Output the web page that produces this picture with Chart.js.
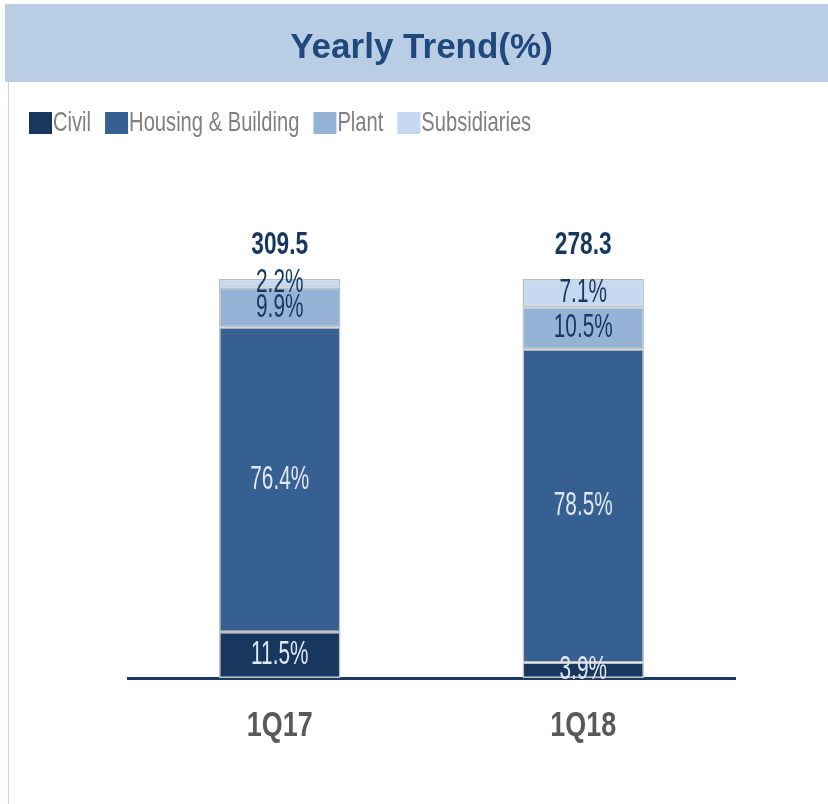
<!DOCTYPE html>
<html>
<head>
<meta charset="utf-8">
<script src="https://cdn.jsdelivr.net/npm/chart.js@4"></script>
<style>
html, body { margin: 0; padding: 0; background: #fff; }
#wrap { width: 828px; height: 804px; }
</style>
</head>
<body>
<div id="wrap"><canvas id="chart"></canvas></div>
<script>
const quarters = ['1Q17', '1Q18'];
const civil = [11.5, 3.9];
const housing = [76.4, 78.5];
const plant = [9.9, 10.5];
const subsidiaries = [2.2, 7.1];
const totals = [309.5, 278.3];

const font = '"Liberation Sans", Arial, sans-serif';
const labelColors = ['#dfe7f2', '#dfe7f2', '#17375e', '#17375e'];

// the original uses a squeezed Arial; fake it by scaling glyphs horizontally
const squeeze = {factor: 1, shift: 0};

function condense(ctx) {
    const fillText = ctx.fillText.bind(ctx);
    const measureText = ctx.measureText.bind(ctx);
    ctx.fillText = function (text, x, y, maxWidth) {
        if (squeeze.factor === 1 && !squeeze.shift) return fillText(text, x, y, maxWidth);
        ctx.save();
        ctx.translate(x - squeeze.shift, y);
        ctx.scale(squeeze.factor, 1);
        fillText(text, 0, 0);
        ctx.restore();
    };
    ctx.measureText = function (text) {
        const m = measureText(text);
        if (squeeze.factor === 1 && !squeeze.shift) return m;
        return {
            width: m.width * squeeze.factor - squeeze.shift,
            actualBoundingBoxAscent: m.actualBoundingBoxAscent,
            actualBoundingBoxDescent: m.actualBoundingBoxDescent
        };
    };
}

function squeezed(obj, method, factor, shift, after) {
    const orig = obj[method];
    obj[method] = function () {
        squeeze.factor = factor;
        squeeze.shift = shift;
        try {
            const r = orig.apply(this, arguments);
            if (after) after.call(this);
            return r;
        } finally {
            squeeze.factor = 1;
            squeeze.shift = 0;
        }
    };
}

const condensedText = {
    id: 'condensedText',
    beforeInit(chart) {
        condense(chart.ctx);
    },
    beforeLayout(chart) {
        if (chart._squeezed) return;
        // legend: tight box/text gap and extra room under it
        squeezed(chart.legend, 'fit', 0.72, 13, function () { this.height += 132; });
        squeezed(chart.legend, 'draw', 0.72, 13);
        squeezed(chart.scales.x, 'drawLabels', 0.77, 0);
        chart._squeezed = true;
    }
};

// light blue header band + left frame line
const headerBand = {
    id: 'headerBand',
    beforeDraw(chart) {
        const ctx = chart.ctx;
        ctx.save();
        ctx.fillStyle = '#b9cde4';
        ctx.fillRect(5, 4, chart.width - 5, 78);
        ctx.strokeStyle = '#c5d6ea';
        ctx.lineWidth = 1;
        ctx.beginPath();
        ctx.moveTo(8.5, 82);
        ctx.lineTo(8.5, chart.height);
        ctx.stroke();
        ctx.restore();
    }
};

const segmentLabels = {
    id: 'segmentLabels',
    afterDatasetsDraw(chart) {
        const ctx = chart.ctx;
        ctx.save();
        ctx.textAlign = 'center';
        ctx.textBaseline = 'middle';
        squeeze.factor = 0.63;
        ctx.font = '33px ' + font;
        chart.data.datasets.forEach((ds, i) => {
            ctx.fillStyle = labelColors[i];
            chart.getDatasetMeta(i).data.forEach((bar, j) => {
                ctx.fillText(ds.data[j].toFixed(1) + '%', bar.x, (bar.y + bar.base) / 2);
            });
        });
        squeeze.factor = 0.71;
        ctx.font = 'bold 32px ' + font;
        ctx.fillStyle = '#17375e';
        chart.getDatasetMeta(chart.data.datasets.length - 1).data.forEach((bar, j) => {
            ctx.fillText(totals[j].toFixed(1), bar.x, bar.y - 34);
        });
        squeeze.factor = 1;
        ctx.restore();
    }
};

function segment(label, data, color) {
    return {
        label: label,
        data: data,
        backgroundColor: color,
        borderColor: '#bfbfbf',
        borderWidth: 1.5,
        borderSkipped: false,
        categoryPercentage: 1,
        barPercentage: 0.4
    };
}

new Chart(document.getElementById('chart'), {
    type: 'bar',
    data: {
        labels: quarters,
        datasets: [
            segment('Civil', civil, '#17375e'),
            segment('Housing & Building', housing, '#366092'),
            segment('Plant', plant, '#95b3d7'),
            segment('Subsidiaries', subsidiaries, '#c6d9f1')
        ]
    },
    options: {
        responsive: true,
        maintainAspectRatio: false,
        animation: false,
        layout: {padding: {top: 4, left: 15, right: 0, bottom: 0}},
        scales: {
            x: {
                stacked: true,
                grid: {display: false},
                border: {display: true, color: '#1b3a63', width: 3},
                ticks: {
                    color: '#595959',
                    padding: 19,
                    font: {family: font, size: 35, weight: 'bold'}
                },
                afterFit: s => { s.height = 126; }
            },
            y: {
                stacked: true,
                min: 0,
                max: 100,
                grid: {display: false},
                border: {display: false},
                ticks: {display: false},
                afterFit: s => { s.width = 113; }
            },
            y2: {
                position: 'right',
                min: 0,
                max: 100,
                grid: {display: false},
                border: {display: false},
                ticks: {display: false},
                afterFit: s => { s.width = 93; }
            }
        },
        plugins: {
            title: {
                display: true,
                text: 'Yearly Trend(%)',
                color: '#1f497d',
                font: {family: font, size: 35, weight: 'bold', lineHeight: 1.2},
                padding: {top: 23, bottom: 26}
            },
            legend: {
                position: 'top',
                align: 'start',
                labels: {
                    boxWidth: 23,
                    boxHeight: 22,
                    padding: 14,
                    color: '#808080',
                    font: {family: font, size: 28},
                    generateLabels: chart => Chart.defaults.plugins.legend.labels.generateLabels(chart)
                        .map(item => Object.assign(item, {strokeStyle: item.fillStyle, lineWidth: 0}))
                },
                onClick: null
            },
            tooltip: {enabled: false}
        }
    },
    plugins: [condensedText, headerBand, segmentLabels]
});
</script>
</body>
</html>
